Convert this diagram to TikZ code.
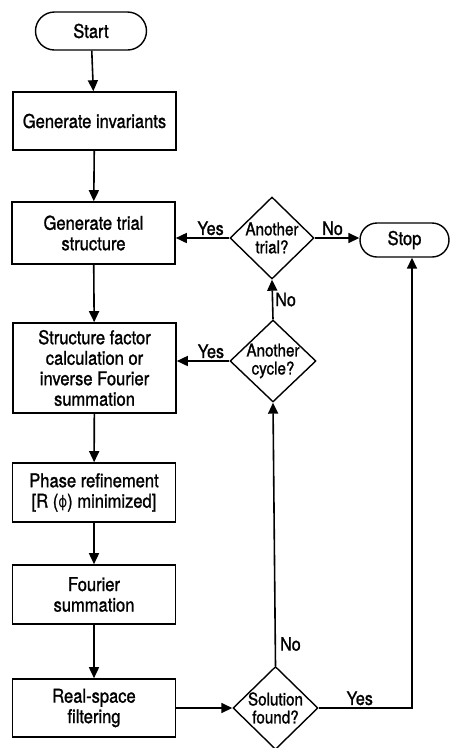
\documentclass[tikz,border=0pt]{standalone}
\usepackage{fontspec}
\setmainfont{TeX Gyre Heros}[FakeStretch=0.87,FakeBold=1.2]
\newfontfamily\phifont{DejaVu Sans}[FakeStretch=0.85]
\usetikzlibrary{arrows.meta,shapes.geometric,shapes.misc}
\begin{document}
\begin{tikzpicture}[x=1pt,y=-1pt,
  txt/.style={font=\fontsize{19}{20.5}\selectfont},
  box/.style={draw,line width=1.6pt,minimum width=163pt,align=center,inner sep=0pt,txt},
  term/.style={draw,line width=1.4pt,rounded rectangle,inner sep=0pt,txt},
  dec/.style={draw,diamond,line width=1.4pt,inner sep=0pt,aspect=1},
  dtxt/.style={font=\fontsize{17.5}{18}\selectfont,align=center},
  arr/.style={line width=1.6pt,-{Triangle[length=11pt,width=10pt]}},
  lbl/.style={font=\fontsize{18.5}{19}\selectfont,inner sep=2pt}
]
\useasboundingbox (0,0) rectangle (451,748);
\node[term,minimum width=111pt,minimum height=38pt] (start) at (91,31) {Start};
\node[box,minimum height=58pt] (inv) at (94.5,121) {Generate invariants};
\node[box,minimum height=62pt] (trial) at (93.5,233) {Generate trial\\structure};
\node[box,minimum height=90pt] (sf) at (94.5,368) {Structure factor\\calculation or\\inverse Fourier\\summation};
\node[box,minimum height=59pt] (phase) at (94,492.5) {Phase refinement\\{[}R ({\phifont\fontsize{16}{18}\selectfont ϕ}) minimized{]}};
\node[box,minimum height=59pt] (four) at (94,594.5) {Fourier\\summation};
\node[box,minimum height=58pt] (real) at (94,708) {Real-space\\filtering};
\node[dec,minimum width=84pt,minimum height=82pt,label={[dtxt]center:Another\\trial?}] (atrial) at (272,238) {};
\node[dec,minimum width=86pt,minimum height=82pt,label={[dtxt]center:Another\\cycle?}] (acycle) at (273,361) {};
\node[dec,minimum width=85pt,minimum height=83pt,label={[dtxt]center:Solution\\found?}] (sol) at (275.5,708) {};
\node[term,minimum width=89pt,minimum height=34pt] (stop) at (404.5,240) {Stop};

\draw[arr] (start) -- (inv);
\draw[arr] (inv) -- (trial);
\draw[arr] (trial) -- (sf);
\draw[arr] (sf) -- (phase);
\draw[arr] (phase) -- (four);
\draw[arr] (four) -- (real);
\draw[arr] (real) -- (sol);
\draw[arr] (sol.north) -- node[lbl,pos=0.06,right,xshift=2pt,yshift=6pt] {No} (acycle.south);
\draw[arr] (acycle.north) -- node[lbl,right,pos=0.5] {No} (atrial.south);
\draw[arr] (acycle.west) -- node[lbl,above,pos=0.35] {Yes} (acycle.west -| sf.east);
\draw[arr] (atrial.west) -- node[lbl,above,pos=0.35] {Yes} (atrial.west -| trial.east);
\draw[arr] (atrial.east) -- node[lbl,above,pos=0.4] {No} (atrial.east -| stop.west);
\draw[arr] (sol.east) -| node[lbl,above,pos=0.22] {Yes} ([xshift=7.5pt]stop.south);
\end{tikzpicture}
\end{document}
